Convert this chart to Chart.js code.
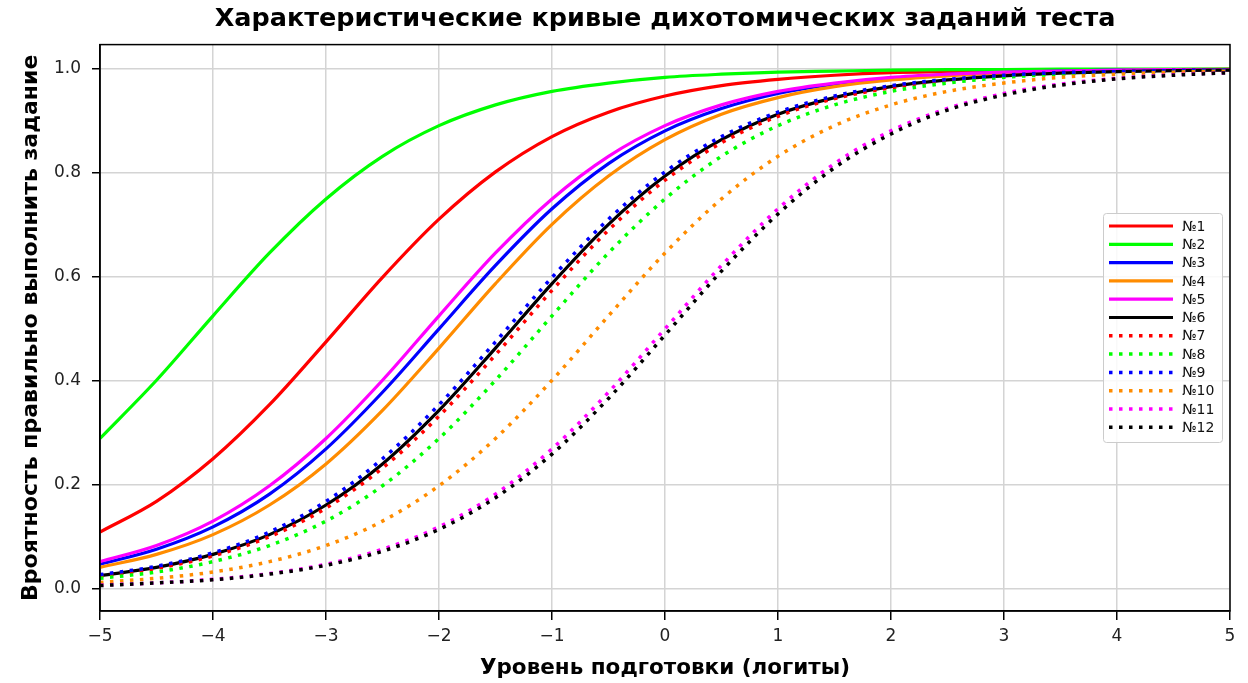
<!DOCTYPE html>
<html>
<head>
<meta charset="utf-8">
<script src="https://cdn.jsdelivr.net/npm/chart.js@4.4.1/dist/chart.umd.min.js"></script>
<style>
  html, body { margin: 0; padding: 0; background: #fff; }
  #wrap { width: 1248px; height: 683px; }
</style>
</head>
<body>
<div id="wrap"><canvas id="iccChart" width="1248" height="683"></canvas></div>
<script>
//////////////////
// ICC curves of dichotomous test items

var abilityLevels = [-5,-4.5,-4,-3.5,-3,-2.5,-2,-1.5,-1,-0.5,0,0.5,1,1.5,2,2.5,3,3.5,4,4.5,5];

var item1  = [0.109,0.168,0.250,0.354,0.475,0.599,0.711,0.802,0.870,0.917,0.948,0.968,0.980,0.988,0.993,0.995,0.997,0.998,0.999,0.999,1.000];
var item2  = [0.289,0.401,0.525,0.646,0.750,0.832,0.891,0.931,0.957,0.973,0.984,0.990,0.994,0.996,0.998,0.999,0.999,1.000,1.000,1.000,1.000];
var item3  = [0.047,0.076,0.119,0.182,0.269,0.378,0.500,0.622,0.731,0.818,0.881,0.924,0.953,0.971,0.982,0.989,0.993,0.996,0.998,0.998,0.999];
var item4  = [0.041,0.066,0.104,0.161,0.240,0.343,0.463,0.587,0.701,0.794,0.864,0.913,0.945,0.966,0.979,0.987,0.992,0.995,0.997,0.998,0.999];
var item5  = [0.052,0.083,0.130,0.198,0.289,0.401,0.525,0.646,0.750,0.832,0.891,0.931,0.957,0.973,0.984,0.990,0.994,0.996,0.998,0.999,0.999];
var item6  = [0.025,0.041,0.066,0.104,0.161,0.240,0.343,0.463,0.587,0.701,0.794,0.864,0.913,0.945,0.966,0.979,0.987,0.992,0.995,0.997,0.998];
var item7  = [0.024,0.039,0.063,0.100,0.155,0.232,0.332,0.450,0.574,0.690,0.786,0.858,0.909,0.943,0.964,0.978,0.987,0.992,0.995,0.997,0.998];
var item8  = [0.020,0.032,0.052,0.083,0.130,0.198,0.289,0.401,0.525,0.646,0.750,0.832,0.891,0.931,0.957,0.973,0.984,0.990,0.994,0.996,0.998];
var item9  = [0.027,0.043,0.069,0.109,0.168,0.250,0.354,0.475,0.599,0.711,0.802,0.870,0.917,0.948,0.968,0.980,0.988,0.993,0.995,0.997,0.998];
var item10 = [0.012,0.020,0.032,0.052,0.083,0.130,0.198,0.289,0.401,0.525,0.646,0.750,0.832,0.891,0.931,0.957,0.973,0.984,0.990,0.994,0.996];
var item11 = [0.007,0.011,0.018,0.029,0.047,0.076,0.119,0.182,0.269,0.378,0.500,0.622,0.731,0.818,0.881,0.924,0.953,0.971,0.982,0.989,0.993];
var item12 = [0.006,0.011,0.017,0.028,0.045,0.072,0.114,0.175,0.259,0.366,0.488,0.611,0.721,0.810,0.875,0.921,0.950,0.969,0.981,0.988,0.993];

var itemSeries = [item1,item2,item3,item4,item5,item6,item7,item8,item9,item10,item11,item12];
var itemLabels = ["№1","№2","№3","№4","№5","№6","№7","№8","№9","№10","№11","№12"];
var itemColors = ["#ff0000","#00ff00","#0000ff","#ff8c00","#ff00ff","#000000","#ff0000","#00ff00","#0000ff","#ff8c00","#ff00ff","#000000"];
var itemDotted = [false,false,false,false,false,false,true,true,true,true,true,true];

var xTicks = [-5,-4,-3,-2,-1,0,1,2,3,4,5];
var yTicks = [0.0,0.2,0.4,0.6,0.8,1.0];

var FONT = "'DejaVu Sans', sans-serif";
var DOT = [3.5, 6.5];

var datasets = itemSeries.map(function(vals, i){
  return {
    label: itemLabels[i],
    data: abilityLevels.map(function(x, k){ return {x: x, y: vals[k]}; }),
    borderColor: itemColors[i],
    backgroundColor: itemColors[i],
    borderWidth: itemDotted[i] ? 3.5 : 3.2,
    borderDash: itemDotted[i] ? DOT : [],
    borderCapStyle: 'butt',
    pointRadius: 0,
    cubicInterpolationMode: 'monotone',
    fill: false,
    order: itemSeries.length - i // later items on top, as in the source
  };
});

// box around the plot area (top and right spines)
var framePlugin = {
  id: 'frame',
  afterDatasetsDraw: function(chart){
    var a = chart.chartArea, ctx = chart.ctx;
    ctx.save();
    ctx.strokeStyle = '#000';
    ctx.lineWidth = 1.5;
    ctx.strokeRect(a.left, a.top, a.right - a.left, a.bottom - a.top);
    ctx.restore();
  }
};

// legend inside the plot, right middle
var legendBoxPlugin = {
  id: 'legendBox',
  afterDraw: function(chart){
    var ctx = chart.ctx;
    var bx = 1103, by = 213, bw = 119, bh = 229, rowH = 18.3;
    ctx.save();
    ctx.fillStyle = 'rgba(255,255,255,0.85)';
    ctx.strokeStyle = '#cccccc';
    ctx.lineWidth = 1;
    ctx.beginPath();
    ctx.roundRect(bx + 0.5, by + 0.5, bw, bh, 3);
    ctx.fill();
    ctx.stroke();
    ctx.font = '14px ' + FONT;
    ctx.textBaseline = 'middle';
    chart.data.datasets.forEach(function(ds, i){
      var y = by + 13 + i * rowH;
      ctx.strokeStyle = ds.borderColor;
      ctx.lineWidth = ds.borderWidth;
      ctx.setLineDash(ds.borderDash);
      ctx.beginPath();
      ctx.moveTo(1109, y);
      ctx.lineTo(1173, y);
      ctx.stroke();
      ctx.setLineDash([]);
      ctx.fillStyle = '#111';
      ctx.fillText(ds.label, 1182, y + 1);
    });
    ctx.restore();
  }
};

var ctxIcc = document.getElementById('iccChart').getContext('2d');
var chartIcc = new Chart(ctxIcc, {
  type: 'line',
  data: { datasets: datasets },
  options: {
    responsive: false,
    animation: false,
    layout: { padding: { left: 0, right: 18, top: 0, bottom: 0 } },
    plugins: {
      legend: { display: false },
      tooltip: { enabled: false },
      title: {
        display: true,
        fullSize: false, // centre over the plot area
        text: 'Характеристические кривые дихотомических заданий теста',
        color: '#000',
        font: { family: FONT, size: 25.5, weight: 'bold' },
        padding: { top: 4, bottom: 10 }
      }
    },
    scales: {
      x: {
        type: 'linear',
        min: -5,
        max: 5,
        afterBuildTicks: function(scale){ scale.ticks = xTicks.map(function(v){ return {value: v}; }); },
        afterFit: function(scale){ scale.height = 72; },
        grid: { color: '#d4d4d4', lineWidth: 1.5, tickColor: '#000', tickLength: 9, tickWidth: 1.5 },
        border: { color: '#000', width: 1.5 },
        ticks: {
          color: '#222',
          padding: 6,
          maxRotation: 0,
          font: { family: FONT, size: 17 },
          callback: function(v){ return v < 0 ? '\u2212' + Math.abs(v) : String(v); }
        },
        title: {
          display: true,
          text: 'Уровень подготовки (логиты)',
          color: '#000',
          font: { family: FONT, size: 21.5, weight: 'bold' },
          padding: { top: 0, bottom: 2 }
        }
      },
      y: {
        type: 'linear',
        min: -0.043,
        max: 1.047,
        afterBuildTicks: function(scale){ scale.ticks = yTicks.map(function(v){ return {value: v}; }); },
        afterFit: function(scale){ scale.width = 100; },
        grid: { color: '#d4d4d4', lineWidth: 1.5, tickColor: '#000', tickLength: 8, tickWidth: 1.5 },
        border: { color: '#000', width: 1.5 },
        ticks: {
          color: '#222',
          padding: 11,
          font: { family: FONT, size: 17 },
          callback: function(v){ return Number(v).toFixed(1); }
        },
        title: {
          display: true,
          text: 'Вроятность правильно выполнить задание',
          color: '#000',
          font: { family: FONT, size: 22, weight: 'bold' },
          padding: { top: 18, bottom: 0 }
        }
      }
    }
  },
  plugins: [framePlugin, legendBoxPlugin]
});
</script>
</body>
</html>
